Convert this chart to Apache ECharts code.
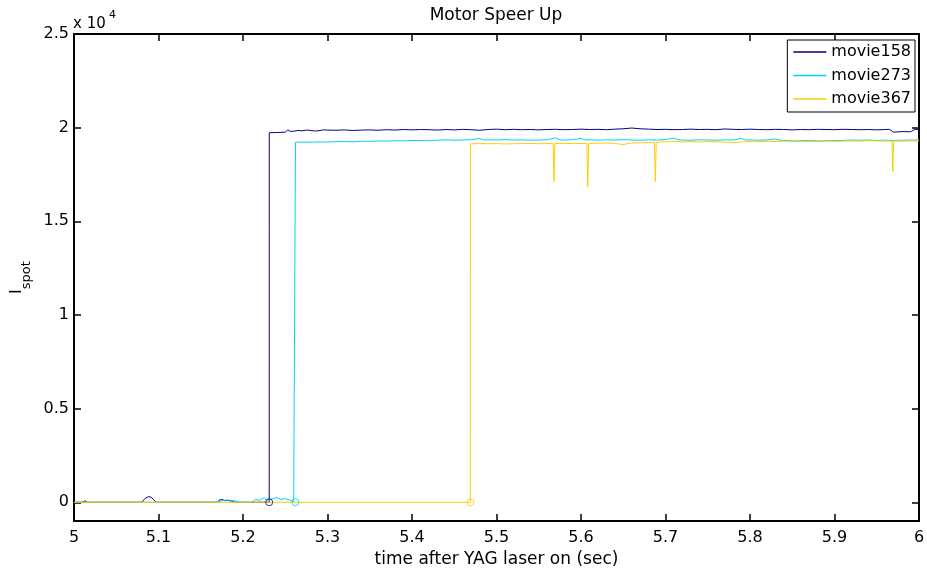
<!DOCTYPE html>
<html>
<head>
<meta charset="utf-8">
<script src="https://cdn.jsdelivr.net/npm/echarts@6/dist/echarts.min.js"></script>
<style>html,body{margin:0;padding:0;background:#fff;}#c{width:927px;height:571px;}</style>
</head>
<body>
<div id="c"></div>
<script>
// ---- data ----
const seriesNames = ['movie158', 'movie273', 'movie367'];
const seriesColors = ['#000080', '#00D2F5', '#FFCC00'];

const t158 = [5.00,5.010,5.013,5.016,5.02,5.05,5.080,5.084,5.088,5.091,5.094,5.097,5.10,5.15,5.170,5.172,5.175,5.178,5.180,5.183,5.186,5.19,5.22,5.231,
  5.2311,5.24,5.25,5.253,5.256,5.26,5.265,5.27,5.275,5.28,5.285,5.29,5.295,5.30,5.31,5.32,5.33,5.34,5.35,5.36,5.37,5.38,5.39,5.40,5.41,5.42,5.43,5.44,5.45,5.46,5.47,5.48,5.49,
  5.50,5.51,5.52,5.53,5.54,5.55,5.56,5.57,5.58,5.59,5.60,5.61,5.62,5.63,5.64,5.65,5.66,5.67,5.68,5.69,5.70,5.71,5.72,5.73,5.74,5.75,5.76,5.77,5.78,5.79,
  5.80,5.81,5.82,5.83,5.84,5.85,5.86,5.87,5.88,5.89,5.90,5.91,5.92,5.93,5.94,5.95,5.96,5.965,5.97,5.98,5.99,5.995,6.00];
const v158 = [0,0,80,0,0,0,0,200,300,280,150,0,0,0,0,120,150,90,160,110,60,0,0,0,
  19730,19740,19760,19880,19800,19810,19850,19830,19870,19850,19820,19840,19880,19870,19860,19880,19850,19870,19880,19860,19890,19870,19900,19880,19900,19890,19870,19900,19880,19910,19890,19860,19900,
  19920,19890,19910,19890,19900,19880,19900,19910,19890,19900,19920,19900,19910,19890,19920,19940,19980,19940,19920,19900,19910,19890,19900,19920,19900,19910,19890,19930,19910,19900,
  19920,19900,19890,19910,19900,19880,19900,19890,19910,19900,19890,19910,19900,19890,19900,19880,19900,19910,19760,19790,19780,19900,19920];

const t273 = [5.00,5.008,5.010,5.013,5.17,5.175,5.18,5.185,5.19,5.195,5.21,5.215,5.22,5.225,5.228,5.235,5.24,5.245,5.25,5.255,5.26,5.262,
  5.2621,5.27,5.28,5.29,5.30,5.31,5.32,5.33,5.34,5.35,5.36,5.37,5.38,5.39,5.40,5.41,5.42,5.43,5.44,5.45,5.46,5.47,5.48,5.485,5.49,
  5.50,5.51,5.52,5.53,5.54,5.55,5.56,5.57,5.575,5.58,5.59,5.60,5.605,5.61,5.62,5.63,5.64,5.65,5.66,5.67,5.68,5.69,5.70,5.71,5.715,5.72,5.73,5.74,5.75,5.76,5.77,5.78,5.79,5.795,
  5.80,5.81,5.82,5.83,5.835,5.84,5.85,5.86,5.87,5.88,5.89,5.90,5.91,5.92,5.93,5.94,5.95,5.96,5.97,5.98,5.99,6.00];
const v273 = [0,0,80,0,0,80,120,60,100,0,0,150,100,250,120,180,260,150,200,120,50,0,
  19220,19230,19220,19240,19230,19250,19260,19240,19280,19270,19290,19280,19300,19290,19310,19320,19300,19330,19350,19330,19340,19360,19420,19340,19350,
  19340,19360,19340,19350,19330,19340,19360,19460,19350,19340,19360,19420,19340,19350,19330,19350,19340,19360,19340,19330,19350,19340,19360,19440,19350,19340,19330,19350,19340,19330,19350,19340,19420,19340,
  19350,19330,19340,19400,19330,19320,19290,19300,19310,19290,19300,19310,19320,19340,19330,19340,19320,19330,19320,19330,19340,19340];

const t367 = [5.00,5.469,
  5.4691,5.48,5.49,5.50,5.51,5.52,5.53,5.54,5.55,5.56,5.567,5.568,5.569,5.58,5.59,5.60,5.607,5.608,5.609,5.62,5.63,5.64,5.65,5.655,5.66,5.67,5.68,5.687,5.688,5.689,
  5.70,5.71,5.72,5.73,5.74,5.75,5.76,5.77,5.78,5.79,5.80,5.81,5.82,5.83,5.84,5.85,5.86,5.87,5.88,5.89,5.90,5.91,5.92,5.93,5.94,5.95,5.96,5.968,5.969,5.970,5.98,5.99,6.00];
const v367 = [0,0,
  19130,19150,19140,19150,19130,19140,19150,19160,19140,19150,19150,17120,19150,19160,19150,19160,19150,16850,19160,19170,19180,19160,19090,19150,19180,19190,19200,19210,17120,19210,
  19250,19260,19240,19250,19230,19260,19240,19230,19200,19240,19260,19250,19270,19260,19280,19260,19250,19270,19260,19280,19270,19280,19290,19280,19300,19290,19290,19290,17650,19290,19280,19290,19300];

// onset markers (time of jump, value 0)
const onsetT = [5.231, 5.262, 5.469];
const onsetV = [0, 0, 0];

const yTicks = [0, 5000, 10000, 15000, 20000, 25000];
const yMin = -1000, yMax = 25000;

// ---- chart ----
const FONT = 'DejaVu Sans';
const chart = echarts.init(document.getElementById('c'), null, {renderer: 'canvas'});

const lineTimes = [t158, t273, t367];
const lineVals = [v158, v273, v367];
const series = [];
lineTimes.forEach((tt, k) => {
  series.push({
    name: seriesNames[k], type: 'line', xAxisIndex: 0, yAxisIndex: 0,
    data: tt.map((x, i) => [x, lineVals[k][i]]),
    showSymbol: false, symbol: 'none',
    lineStyle: {color: seriesColors[k], width: 1},
    itemStyle: {color: seriesColors[k]},
    animation: false, z: 2 + k
  });
});
onsetT.forEach((x, k) => {
  series.push({
    name: 'onset' + k, type: 'scatter', xAxisIndex: 0, yAxisIndex: 0,
    data: [[x, onsetV[k]]], symbol: 'circle', symbolSize: 7,
    itemStyle: {color: 'rgba(0,0,0,0)', borderColor: seriesColors[k], borderWidth: 1},
    animation: false, z: 6
  });
});

const axisLineStyle = {color: '#000', width: 2};
const tickStyle = {color: '#000', width: 1.5};
const fmtX = v => String(Math.round(v * 10) / 10);

chart.setOption({
  animation: false,
  title: {
    text: 'Motor Speer Up', left: 496, top: 7, textAlign: 'center', padding: 0,
    textStyle: {fontFamily: FONT, fontSize: 17, fontWeight: 'normal', color: '#000'}
  },
  legend: {
    data: seriesNames, orient: 'vertical', right: 12, top: 40,
    backgroundColor: '#fff', borderColor: '#000', borderWidth: 1,
    padding: [2, 4, 3, 6], itemGap: 3.5, itemWidth: 33, itemHeight: 1.5, icon: 'rect',
    textStyle: {fontFamily: FONT, fontSize: 16, color: '#000', lineHeight: 20}
  },
  grid: {left: 74, right: 8, top: 34, bottom: 50, outerBoundsMode: 'none'},
  xAxis: [{
    type: 'value', position: 'bottom', min: 5, max: 6, interval: 0.1,
    axisLine: {onZero: false, lineStyle: axisLineStyle},
    axisTick: {inside: true, length: 7, lineStyle: tickStyle},
    axisLabel: {formatter: fmtX, fontFamily: FONT, fontSize: 16, color: '#000', margin: 9, showMinLabel: true, showMaxLabel: true},
    splitLine: {show: false},
    name: 'time after YAG laser on (sec)', nameLocation: 'middle', nameGap: 21,
    nameTextStyle: {fontFamily: FONT, fontSize: 17, color: '#000'}
  }, {
    type: 'value', position: 'top', min: 5, max: 6, interval: 0.1,
    axisLine: {onZero: false, lineStyle: axisLineStyle},
    axisTick: {inside: true, length: 7, lineStyle: tickStyle},
    axisLabel: {show: false}, splitLine: {show: false}
  }],
  yAxis: [{
    type: 'value', position: 'left', min: yMin, max: yMax,
    axisLine: {onZero: false, lineStyle: axisLineStyle},
    axisTick: {inside: true, length: 7, lineStyle: tickStyle, customValues: yTicks},
    axisLabel: {customValues: yTicks, formatter: v => String(v / 10000), fontFamily: FONT, fontSize: 16, color: '#000', margin: 5},
    splitLine: {show: false},
    name: '{i|I}{s|spot}', nameLocation: 'middle', nameGap: 40,
    nameTextStyle: {
      fontFamily: FONT, color: '#000',
      rich: {
        i: {fontFamily: FONT, fontSize: 16, color: '#000'},
        s: {fontFamily: FONT, fontSize: 13, color: '#000', padding: [18, 0, 0, 0]}
      }
    }
  }, {
    type: 'value', position: 'right', min: yMin, max: yMax,
    axisLine: {onZero: false, lineStyle: axisLineStyle},
    axisTick: {inside: true, length: 7, lineStyle: tickStyle, customValues: yTicks},
    axisLabel: {show: false}, splitLine: {show: false}
  }],
  graphic: [
    {type: 'text', left: 73, top: 17, style: {text: 'x 10', fontFamily: FONT, fontSize: 15, fill: '#000'}},
    {type: 'text', left: 109, top: 10, style: {text: '4', fontFamily: FONT, fontSize: 11, fill: '#000'}}
  ],
  series: series
});
</script>
</body>
</html>
